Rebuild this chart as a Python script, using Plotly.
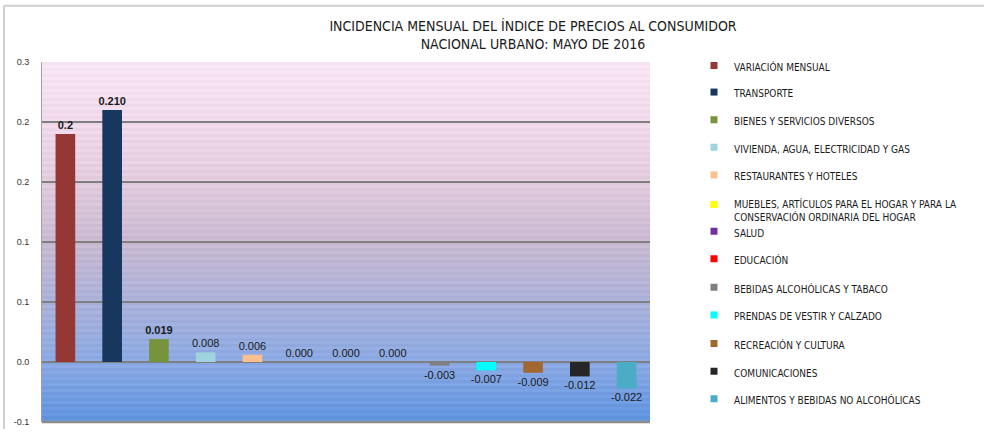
import plotly.graph_objects as go

# ---------------- data ----------------
categories = [
    "VARIACIÓN MENSUAL",
    "TRANSPORTE",
    "BIENES Y SERVICIOS DIVERSOS",
    "VIVIENDA, AGUA, ELECTRICIDAD Y GAS",
    "RESTAURANTES Y HOTELES",
    "MUEBLES, ARTÍCULOS PARA EL HOGAR Y PARA LA<br>CONSERVACIÓN ORDINARIA DEL HOGAR",
    "SALUD",
    "EDUCACIÓN",
    "BEBIDAS ALCOHÓLICAS Y TABACO",
    "PRENDAS DE VESTIR Y CALZADO",
    "RECREACIÓN Y CULTURA",
    "COMUNICACIONES",
    "ALIMENTOS Y BEBIDAS NO ALCOHÓLICAS",
]
values = [0.19, 0.210, 0.019, 0.008, 0.006, 0.000, 0.000, 0.000,
          -0.003, -0.007, -0.009, -0.012, -0.022]
value_labels = ["0.2", "0.210", "0.019", "0.008", "0.006", "0.000", "0.000", "0.000",
                "-0.003", "-0.007", "-0.009", "-0.012", "-0.022"]
colors = ["#953735", "#17375e", "#77933c", "#9fd3de", "#fac090", "#ffff00",
          "#7030a0", "#ff0000", "#7f7f7f", "#00ffff", "#a0682e", "#262626", "#4bacc6"]
tick_vals = [-0.05, 0.0, 0.05, 0.10, 0.15, 0.20, 0.25]
tick_text = ["-0.1", "0.0", "0.1", "0.1", "0.2", "0.2", "0.3"]

# ---------------- layout constants ----------------
W, H = 984, 434
ML, MR, MT, MB = 42, 334, 62, 7
PW, PH = W - ML - MR, H - MT - MB
YMIN, YMAX = -0.05, 0.25
NARROW = "DejaVu Sans Condensed, Liberation Sans Narrow, Arial Narrow, sans-serif"
SANS = "Liberation Sans, Arial, sans-serif"

fig = go.Figure()

xkeys = [c.replace("<br>", " ") for c in categories]

for i, (cat, v, lab, col) in enumerate(zip(categories, values, value_labels, colors)):
    lg = "legend" if i == 0 else f"legend{i+1}"
    fig.add_trace(go.Bar(
        x=[xkeys[i]], y=[v], marker=dict(color=col, line=dict(width=0)),
        width=0.42, text=[lab], textposition="outside", constraintext="none",
        textfont=dict(family=SANS, size=11, color="#1a1a1a",
                      weight="bold" if i < 3 else "normal"),
        cliponaxis=False, showlegend=False, hoverinfo="skip",
    ))
    fig.add_trace(go.Scatter(
        x=[None], y=[None], mode="markers", name=cat,
        marker=dict(symbol="square", size=7, color=col),
        legend=lg, showlegend=True,
    ))

# ---------------- gradient background (styling) ----------------
stops = [
    (-0.05, (92, 144, 220)),
    (0.00, (136, 166, 224)),
    (0.05, (168, 174, 214)),
    (0.10, (198, 182, 206)),
    (0.15, (222, 200, 218)),
    (0.20, (236, 214, 231)),
    (0.25, (245, 226, 240)),
]

def col_at(y):
    for (y0, c0), (y1, c1) in zip(stops[:-1], stops[1:]):
        if y0 <= y <= y1:
            t = (y - y0) / (y1 - y0)
            return tuple(c0[k] + (c1[k] - c0[k]) * t for k in range(3))
    return stops[-1][1]

shapes = []
n = 120
step = (YMAX - YMIN) / n
for k in range(n):
    y0 = YMIN + k * step
    c = col_at(y0 + step / 2)
    if k % 2 == 0:
        c = tuple(min(255, cc + 7) for cc in c)
    shapes.append(dict(type="rect", xref="paper", yref="y", x0=0, x1=1, y0=y0, y1=y0 + step,
                       fillcolor="rgb(%d,%d,%d)" % tuple(int(round(cc)) for cc in c),
                       line=dict(width=0), layer="below"))
# outer frame (top & left)
shapes.append(dict(type="line", xref="paper", yref="paper",
                   x0=(4 - ML) / PW, x1=(984 - ML) / PW, y0=(H - MB - 5) / PH, y1=(H - MB - 5) / PH,
                   line=dict(color="#d0d0d0", width=2)))
shapes.append(dict(type="line", xref="paper", yref="paper",
                   x0=(4 - ML) / PW, x1=(4 - ML) / PW, y0=(H - MB - 5) / PH, y1=-MB / PH,
                   line=dict(color="#d0d0d0", width=2)))
# bottom axis line
shapes.append(dict(type="line", xref="paper", yref="paper", x0=0, x1=1, y0=0, y1=0,
                   line=dict(color="#8c8c8c", width=2.5)))

# ---------------- legends ----------------
leg_y_px = [67, 94, 122, 150, 178, 213, 235, 263, 292, 320, 349, 377, 405]
legends = {}
for i, ypx in enumerate(leg_y_px):
    key = "legend" if i == 0 else f"legend{i+1}"
    legends[key] = dict(
        x=(694 - ML) / PW, xanchor="left",
        y=(H - MB - ypx) / PH, yanchor="middle",
        bgcolor="rgba(0,0,0,0)", borderwidth=0,
        font=dict(family=NARROW, size=10, color="#1a1a1a"),
        itemwidth=30, valign="top", tracegroupgap=0,
    )

fig.update_layout(
    width=W, height=H,
    margin=dict(l=ML, r=MR, t=MT, b=MB),
    paper_bgcolor="white", plot_bgcolor="rgba(0,0,0,0)",
    barmode="overlay",
    title=dict(
        text="INCIDENCIA MENSUAL DEL ÍNDICE DE PRECIOS AL CONSUMIDOR<br>NACIONAL URBANO: MAYO DE 2016",
        x=(533) / W, xanchor="center", xref="container",
        y=1 - 31 / H, yanchor="middle", yref="container",
        font=dict(family=NARROW, size=14, color="#1a1a1a"),
    ),
    xaxis=dict(showticklabels=False, showgrid=False, zeroline=False,
               showline=False, ticks="", categoryorder="array", categoryarray=xkeys,
               range=[-0.5, len(xkeys) - 0.5]),
    yaxis=dict(range=[YMIN, YMAX], tickvals=tick_vals, ticktext=tick_text,
               showgrid=True, gridcolor="#7f7f7f", gridwidth=1.5,
               zeroline=True, zerolinecolor="#7f7f7f", zerolinewidth=1.5,
               showline=True, linecolor="#a0a0a0", linewidth=1,
               ticks="", ticklabelstandoff=10,
               tickfont=dict(family=SANS, size=9, color="#333333")),
    shapes=shapes,
    showlegend=True,
    **legends,
)

fig.write_html("out.html")
